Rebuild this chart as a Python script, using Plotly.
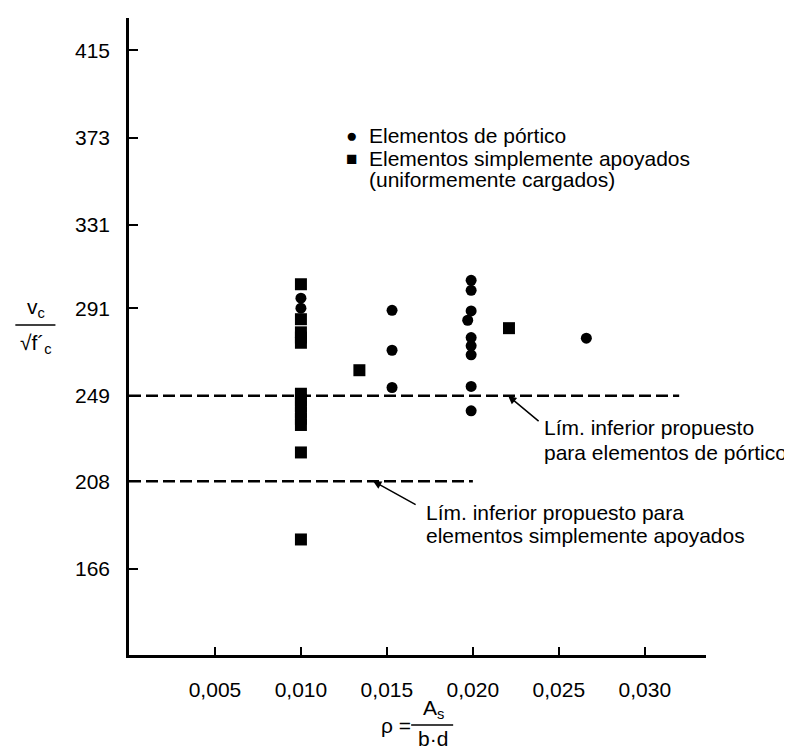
import plotly.graph_objects as go

# --- dados -----------------------------------------------------------------
# elementos de pórtico (círculos)
portico_rho = [0.0100, 0.0100,
               0.0153, 0.0153, 0.0153,
               0.0199, 0.0199, 0.0199, 0.0197, 0.0199, 0.0199, 0.0199, 0.0199, 0.0199,
               0.0266]
portico_v = [295.9, 291.1,
             290.1, 270.9, 253.0,
             304.5, 299.7, 289.8, 285.3, 277.0, 273.0, 268.7, 253.5, 241.8,
             276.7]

# elementos simplesmente apoiados (quadrados)
apoyados_rho = [0.0100, 0.0100, 0.0100, 0.0100, 0.0100,
                0.0100, 0.0100, 0.0100, 0.0100, 0.0100, 0.0100,
                0.0100, 0.0100,
                0.0134, 0.0221]
apoyados_v = [302.6, 285.8, 279.5, 277.0, 274.5,
              250.0, 247.0, 244.0, 241.0, 238.0, 235.0,
              221.8, 180.0,
              261.3, 281.5]

# limites inferiores propostos
lim_portico_rho = [0.0, 0.0320]
lim_portico_v = [249, 249]
lim_apoyados_rho = [0.0, 0.0200]
lim_apoyados_v = [208, 208]

x_ticks = [0.005, 0.010, 0.015, 0.020, 0.025, 0.030]
x_ticktext = ["0,005", "0,010", "0,015", "0,020", "0,025", "0,030"]
y_ticks = [166, 208, 249, 291, 331, 373, 415]
y_ticktext = [str(v) for v in y_ticks]

FONT = "Liberation Sans, Arial, sans-serif"
FS = 21
INK = "black"

fig = go.Figure()

dash = dict(color=INK, width=2.5, dash="12px,5px")
fig.add_trace(go.Scatter(x=lim_portico_rho, y=lim_portico_v, mode="lines", line=dash,
                         showlegend=False, hoverinfo="skip"))
fig.add_trace(go.Scatter(x=lim_apoyados_rho, y=lim_apoyados_v, mode="lines", line=dash,
                         showlegend=False, hoverinfo="skip"))
fig.add_trace(go.Scatter(x=apoyados_rho, y=apoyados_v, mode="markers",
                         marker=dict(symbol="square", size=12, color=INK),
                         showlegend=False))
fig.add_trace(go.Scatter(x=portico_rho, y=portico_v, mode="markers",
                         marker=dict(symbol="circle", size=11, color=INK),
                         showlegend=False))

ann = []


def txt(x, y, s, xanchor="left", yanchor="middle", size=FS, xref="x", yref="y", xshift=0):
    ann.append(dict(x=x, y=y, xref=xref, yref=yref, text=s, showarrow=False,
                    xanchor=xanchor, yanchor=yanchor, borderpad=0, xshift=xshift,
                    font=dict(family=FONT, size=size, color=INK)))


# legenda
txt(0.01294, 374.2, "●", xanchor="center", size=19)
txt(0.01294, 363.1, "■", xanchor="center", size=19)
txt(0.01391, 374.2, "Elementos de pórtico")
txt(0.01391, 363.1, "Elementos simplemente apoyados")
txt(0.01391, 353.0, "(uniformemente cargados)")

# setas dos limites
arrow = dict(showarrow=True, arrowhead=2, arrowsize=1.1, arrowwidth=1.5,
             arrowcolor=INK, standoff=0, text=" ", xref="x", yref="y", axref="pixel", ayref="pixel")
ann.append(dict(arrow, x=0.02205, y=249, ax=35, ay=29))
ann.append(dict(arrow, x=0.0142, y=208, ax=47, ay=26))
txt(0.02442, 233.8, "Lím. inferior propuesto", xshift=-6)
txt(0.02442, 221.8, "para elementos de pórtico", xshift=-6)
txt(0.01721, 192.9, "Lím. inferior propuesto para")
txt(0.01721, 181.8, "elementos simplemente apoyados")

# título do eixo x: ρ = As / (b·d)
txt(0.463, -0.1099, "ρ =", xanchor="center", xref="paper", yref="paper")
txt(0.527, -0.1068, "A<sub>s</sub>", xanchor="center", yanchor="bottom", xref="paper", yref="paper")
txt(0.527, -0.1122, "b·d", xanchor="center", yanchor="top", xref="paper", yref="paper")

# título do eixo y: vc / √f'c
txt(-0.162, 0.545, "v<sub>c</sub>", xanchor="center", xref="paper", yref="paper")
txt(-0.162, 0.488, "√f´<sub>c</sub>", xanchor="center", xref="paper", yref="paper")

shapes = [
    dict(type="line", xref="paper", yref="paper", x0=0.489, x1=0.5618, y0=-0.1099, y1=-0.1099,
         line=dict(color=INK, width=1.5)),
    dict(type="line", xref="paper", yref="paper", x0=-0.197, x1=-0.1275, y0=0.518, y1=0.518,
         line=dict(color=INK, width=1.5)),
]

fig.update_layout(
    width=792, height=749,
    margin=dict(l=121, r=94, t=10, b=102),
    plot_bgcolor="white", paper_bgcolor="white",
    font=dict(family=FONT, size=FS, color=INK),
    annotations=ann, shapes=shapes, showlegend=False,
)
fig.update_xaxes(range=[0, 0.03356], showline=True, linecolor=INK, linewidth=2.5,
                 showgrid=False, zeroline=False, ticks="inside", ticklen=8, tickwidth=2,
                 tickcolor=INK, tickvals=x_ticks, ticktext=x_ticktext, ticklabelstandoff=14)
fig.update_yaxes(range=[124.5, 430.5], showline=True, linecolor=INK, linewidth=2.5,
                 showgrid=False, zeroline=False, ticks="inside", ticklen=9, tickwidth=2,
                 tickcolor=INK, tickvals=y_ticks, ticktext=y_ticktext, ticklabelstandoff=12)

fig.write_html("out.html")
